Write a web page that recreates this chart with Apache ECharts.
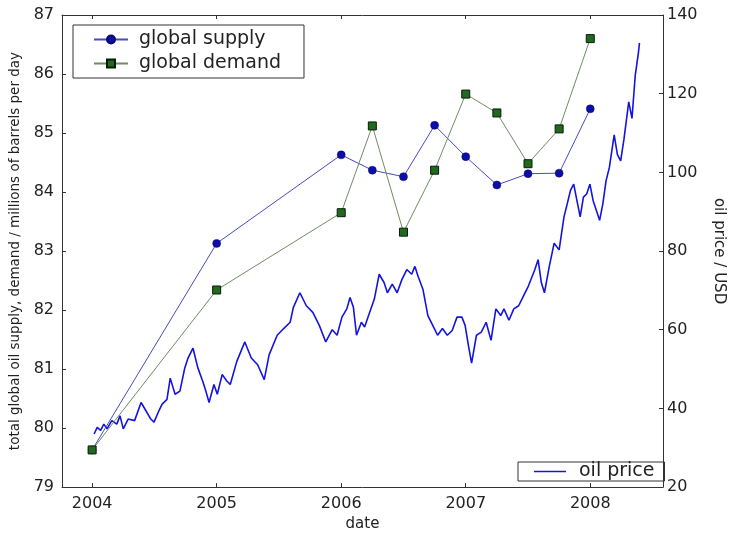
<!DOCTYPE html>
<html>
<head>
<meta charset="utf-8">
<script src="https://cdn.jsdelivr.net/npm/echarts@6/dist/echarts.min.js"></script>
<style>
  html, body { margin: 0; padding: 0; background: #fff; }
  #chart { width: 734px; height: 537px; }
</style>
</head>
<body>
<div id="chart"></div>
<script>
// tick labels along the date axis
const yearTicks = [2004, 2005, 2006, 2007, 2008]

// supply / demand, millions of barrels per day (quarterly-ish readings)
const supplyYears = [2004, 2005, 2006, 2006.25, 2006.5, 2006.75, 2007, 2007.25, 2007.5, 2007.75, 2008]
const supplyValues = [79.63, 83.13, 84.63, 84.37, 84.26, 85.13, 84.6, 84.12, 84.31, 84.32, 85.41]

const demandYears = [2004, 2005, 2006, 2006.25, 2006.5, 2006.75, 2007, 2007.25, 2007.5, 2007.75, 2008]
const demandValues = [79.63, 82.34, 83.65, 85.12, 83.32, 84.37, 85.66, 85.34, 84.48, 85.07, 86.6]

// oil price, USD
const priceYears = [
  2004.016, 2004.041, 2004.068, 2004.094, 2004.119, 2004.158, 2004.198, 2004.224, 2004.25, 2004.289,
  2004.341, 2004.393, 2004.432, 2004.471, 2004.497, 2004.536, 2004.562, 2004.601, 2004.627, 2004.666,
  2004.705, 2004.744, 2004.77, 2004.81, 2004.849, 2004.888, 2004.913, 2004.939, 2004.978, 2005.005,
  2005.044, 2005.083, 2005.109, 2005.161, 2005.226, 2005.278, 2005.329, 2005.382, 2005.421, 2005.486,
  2005.538, 2005.59, 2005.616, 2005.668, 2005.72, 2005.772, 2005.824, 2005.876, 2005.928, 2005.967,
  2006.006, 2006.045, 2006.071, 2006.098, 2006.123, 2006.162, 2006.188, 2006.215, 2006.266, 2006.305,
  2006.344, 2006.371, 2006.41, 2006.449, 2006.488, 2006.527, 2006.566, 2006.592, 2006.617, 2006.656,
  2006.696, 2006.735, 2006.774, 2006.813, 2006.852, 2006.891, 2006.93, 2006.969, 2006.995, 2007.021,
  2007.047, 2007.086, 2007.125, 2007.164, 2007.203, 2007.242, 2007.281, 2007.307, 2007.347, 2007.386,
  2007.425, 2007.464, 2007.503, 2007.555, 2007.581, 2007.607, 2007.632, 2007.671, 2007.71, 2007.75,
  2007.789, 2007.815, 2007.841, 2007.867, 2007.893, 2007.919, 2007.945, 2007.971, 2007.997, 2008.023,
  2008.049, 2008.075, 2008.101, 2008.127, 2008.153, 2008.192, 2008.218, 2008.244, 2008.27, 2008.309,
  2008.335, 2008.361, 2008.387, 2008.395
]
const priceValues = [
  33.5, 35.2, 34.4, 36.0, 34.8, 36.9, 36.0, 38.1, 34.8, 37.3,
  36.9, 41.5, 39.4, 37.3, 36.5, 39.4, 41.1, 42.3, 47.7, 43.6,
  44.4, 50.3, 52.8, 55.3, 50.3, 46.9, 44.4, 41.5, 46.1, 43.6,
  48.6, 46.9, 46.1, 51.9, 56.9, 52.8, 51.1, 47.3, 53.6, 58.6,
  60.3, 61.9, 65.7, 69.4, 66.1, 64.4, 61.1, 56.9, 60.0, 58.6,
  63.2, 65.3, 68.2, 65.7, 58.6, 61.9, 60.7, 63.2, 67.8, 74.1,
  72.0, 69.4, 71.6, 69.4, 72.8, 75.3, 74.1, 76.1, 73.6, 70.3,
  63.6, 61.1, 58.6, 60.3, 58.6, 59.8, 63.2, 63.2, 61.1, 56.1,
  51.5, 58.6, 59.4, 61.9, 57.3, 65.3, 63.6, 65.3, 62.4, 65.3,
  66.1, 68.6, 71.1, 75.3, 77.8, 72.0, 69.4, 76.1, 82.0, 80.3,
  88.7, 92.0, 95.4, 97.0, 92.8, 88.7, 93.7, 94.5, 97.0, 92.8,
  90.3, 87.8, 92.0, 97.9, 101.2, 109.5, 104.5, 102.9, 108.3, 117.9,
  113.7, 124.6, 130.5, 132.9
]

const zip = (xs, ys) => xs.map((x, i) => [x, ys[i]])

const font = 'DejaVu Sans'
const ink = '#222'

const chart = echarts.init(document.getElementById('chart'))

const option = {
  animation: false,
  backgroundColor: '#fff',
  textStyle: { fontFamily: font, color: ink },
  grid: { left: 62, right: 54, top: 15, bottom: 43 },
  legend: [
    {
      data: ['global supply', 'global demand'],
      orient: 'vertical',
      left: 73,
      top: 25,
      width: 222,
      padding: [5, 23, 5, 20],
      itemGap: 5,
      itemWidth: 34,
      itemHeight: 10,
      borderColor: '#333',
      borderWidth: 1,
      borderRadius: 0,
      textStyle: { fontFamily: font, fontSize: 19, color: ink, padding: [0, 0, 0, 6] }
    },
    {
      data: [{ name: 'oil price', icon: 'rect' }],
      left: 518,
      top: 462,
      padding: [0, 10, 0, 16],
      itemWidth: 32,
      itemHeight: 1.5,
      borderColor: '#333',
      borderWidth: 1,
      borderRadius: 0,
      textStyle: { fontFamily: font, fontSize: 19, color: ink, padding: [0, 0, 0, 8] }
    }
  ],
  xAxis: [
    {
      type: 'value',
      min: 2003.758,
      max: 2008.584,
      name: 'date',
      nameLocation: 'middle',
      nameGap: 24,
      nameTextStyle: { fontFamily: font, fontSize: 15, color: ink },
      splitLine: { show: false },
      axisLine: { lineStyle: { color: '#333', width: 1 } },
      axisTick: { inside: true, length: 4, customValues: yearTicks, lineStyle: { color: '#333' } },
      axisLabel: {
        customValues: yearTicks,
        fontFamily: font, fontSize: 16, color: ink, margin: 9,
        formatter: v => String(Math.round(v))
      }
    },
    {
      type: 'value',
      position: 'top',
      min: 2003.758,
      max: 2008.584,
      splitLine: { show: false },
      axisLine: { lineStyle: { color: '#333', width: 1 } },
      axisTick: { inside: true, length: 4, customValues: yearTicks, lineStyle: { color: '#333' } },
      axisLabel: { show: false }
    }
  ],
  yAxis: [
    {
      type: 'value',
      min: 79,
      max: 87,
      interval: 1,
      name: 'total global oil supply, demand / millions of barrels per day',
      nameLocation: 'middle',
      nameGap: 40,
      nameTextStyle: { fontFamily: font, fontSize: 13.5, color: ink },
      splitLine: { show: false },
      axisLine: { show: true, lineStyle: { color: '#333', width: 1 } },
      axisTick: { show: true, inside: true, length: 4, lineStyle: { color: '#333' } },
      axisLabel: { fontFamily: font, fontSize: 16, color: ink, margin: 8 }
    },
    {
      type: 'value',
      min: 20,
      max: 140,
      interval: 20,
      position: 'right',
      name: 'oil price / USD',
      nameLocation: 'middle',
      nameGap: 48,
      nameRotate: -90,
      nameTextStyle: { fontFamily: font, fontSize: 15, color: ink },
      splitLine: { show: false },
      axisLine: { show: true, lineStyle: { color: '#333', width: 1 } },
      axisTick: { show: true, inside: true, length: 4, lineStyle: { color: '#333' } },
      axisLabel: { fontFamily: font, fontSize: 16, color: ink, margin: 4 }
    }
  ],
  series: [
    {
      name: 'oil price',
      type: 'line',
      yAxisIndex: 1,
      data: zip(priceYears, priceValues),
      showSymbol: false,
      symbol: 'none',
      lineStyle: { color: '#1414e0', width: 1.6 },
      itemStyle: { color: '#1414e0' },
      z: 2
    },
    {
      name: 'global supply',
      type: 'line',
      yAxisIndex: 0,
      data: zip(supplyYears, supplyValues),
      symbol: 'circle',
      symbolSize: 8,
      lineStyle: { color: '#4b4bc0', width: 1 },
      itemStyle: { color: '#0d0da8', borderColor: '#0a0a6a', borderWidth: 0.5 },
      z: 3
    },
    {
      name: 'global demand',
      type: 'line',
      yAxisIndex: 0,
      data: zip(demandYears, demandValues),
      symbol: 'rect',
      symbolSize: 8,
      lineStyle: { color: '#6f8c62', width: 1 },
      itemStyle: { color: '#1f6a1f', borderColor: '#0a1a0a', borderWidth: 1 },
      z: 4
    }
  ]
}

chart.setOption(option)
</script>
</body>
</html>
